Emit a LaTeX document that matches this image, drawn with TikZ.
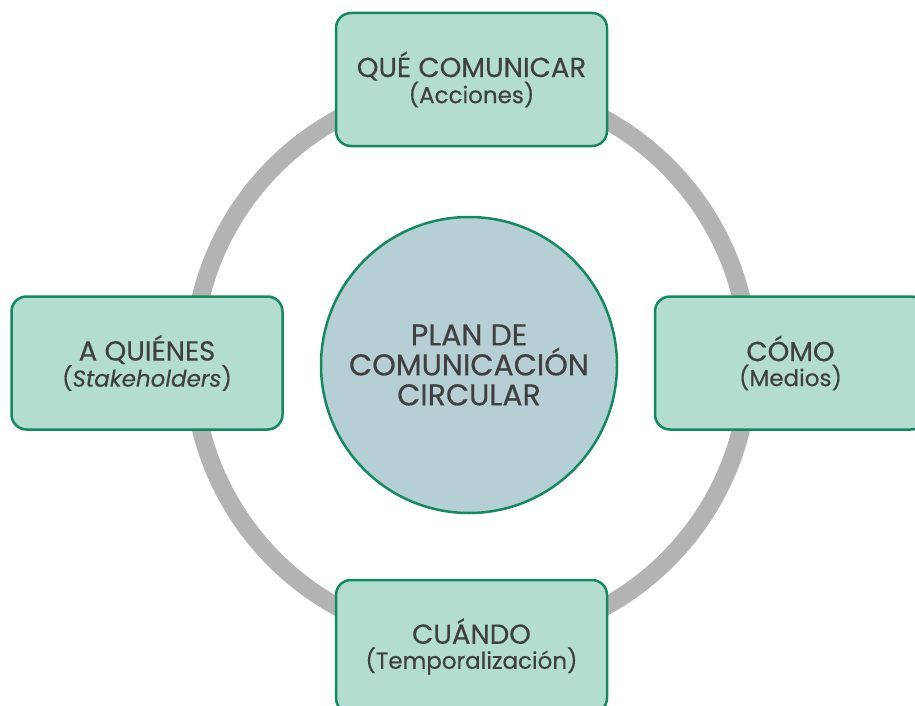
\documentclass[tikz,border=0pt]{standalone}
\usepackage{fontspec}
\setmainfont{Poppins}[FakeBold=0.4]
\definecolor{boxfill}{HTML}{B3DDD1}
\definecolor{boxline}{HTML}{138A5E}
\definecolor{circfill}{HTML}{B5CFD5}
\definecolor{ringgray}{HTML}{B3B3B3}
\definecolor{txt}{HTML}{404040}
\newcommand{\subline}[1]{{\fontsize{23}{25}\selectfont #1}}
\tikzset{
  topicbox/.style={draw=boxline, fill=boxfill, line width=2.5pt, rounded corners=15pt,
    minimum width=271pt, minimum height=133pt, align=center, text=txt,
    font=\fontsize{27.5}{25}\selectfont, inner sep=0pt},
  hubcircle/.style={circle, draw=boxline, fill=circfill, line width=2.5pt,
    minimum size=296pt, align=center, text=txt, font=\fontsize{30}{30}\selectfont, inner sep=0pt},
  ring/.style={draw=ringgray, line width=18pt}
}
\begin{document}
\begin{tikzpicture}[x=1pt,y=-1pt]
\useasboundingbox (0,0) rectangle (915,706);
\coordinate (c) at (471,363);
\draw[ring] (c) circle[radius=278];
\node[topicbox] (que) at (471.5,79.5) {QUÉ COMUNICAR\\\subline{(Acciones)}};
\node[topicbox] (quien) at (147,363) {A QUIÉNES\\\subline{(\textit{Stakeholders})}};
\node[topicbox] (como) at (790.5,363) {CÓMO\\\subline{(Medios)}};
\node[topicbox] (cuando) at (471.5,646.5) {CUÁNDO\\\subline{(Temporalización)}};
\node[hubcircle] (plan) at (469,365) {PLAN DE\\COMUNICACIÓN\\CIRCULAR};
\end{tikzpicture}
\end{document}
